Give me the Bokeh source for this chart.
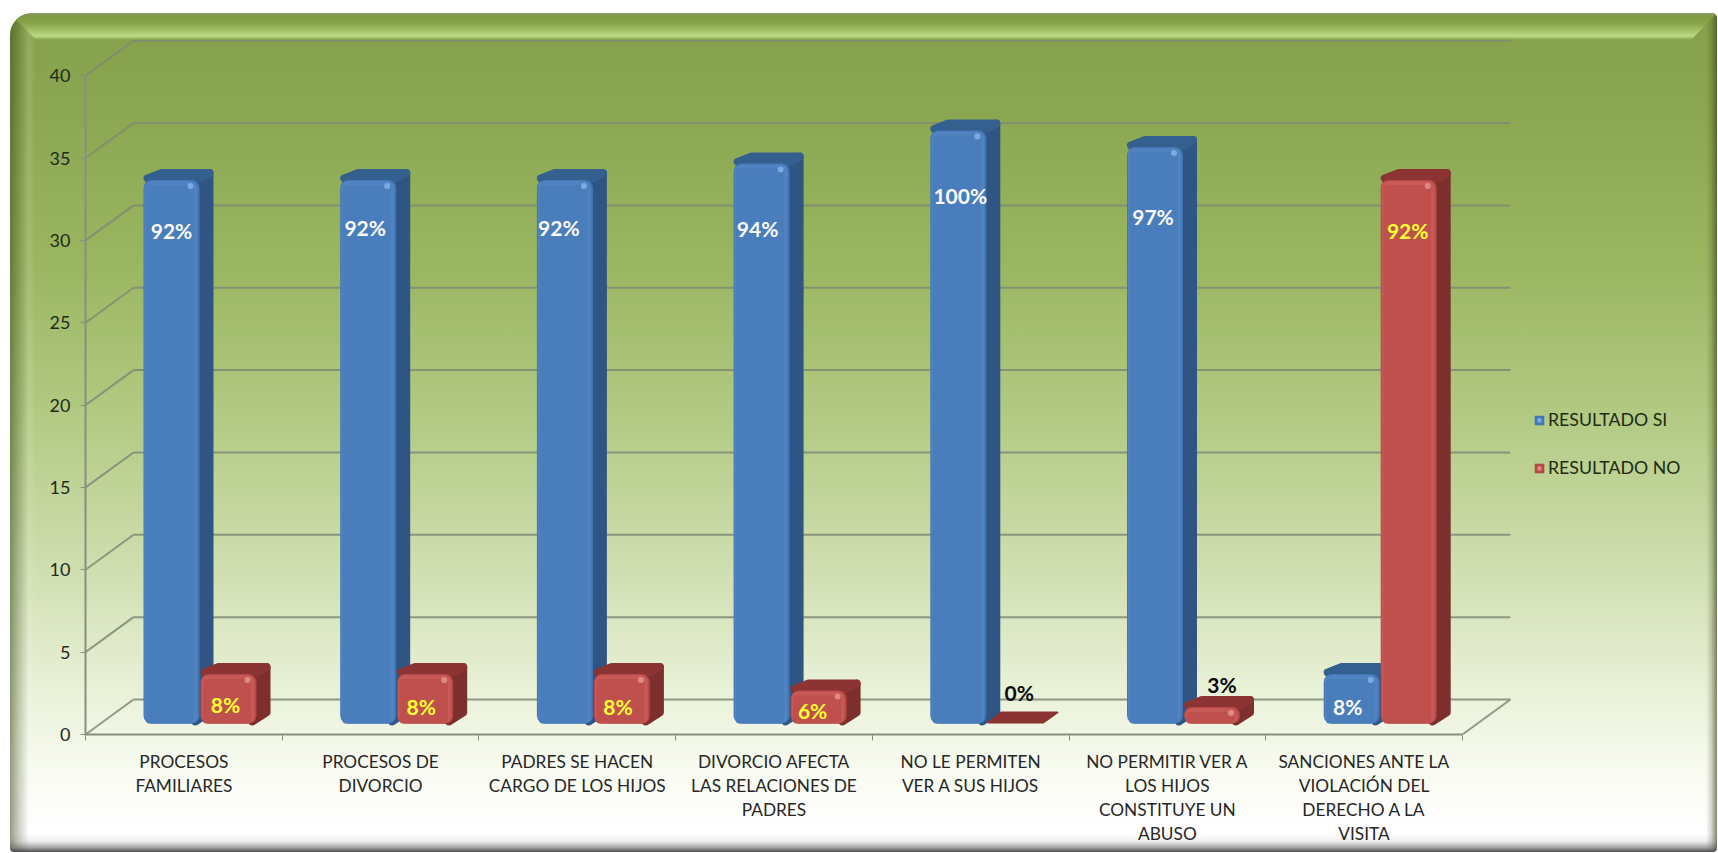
from bokeh.core.properties import value
from bokeh.embed import file_html
from bokeh.models import ColumnDataSource, FixedTicker, InlineStyleSheet, Legend, LegendItem, Range1d
from bokeh.plotting import figure
from bokeh.resources import INLINE

categories = [
    "PROCESOS\nFAMILIARES",
    "PROCESOS DE\nDIVORCIO",
    "PADRES SE HACEN\nCARGO DE LOS HIJOS",
    "DIVORCIO AFECTA\nLAS RELACIONES DE\nPADRES",
    "NO LE PERMITEN\nVER A SUS HIJOS",
    "NO PERMITIR VER A\nLOS HIJOS\nCONSTITUYE UN\nABUSO",
    "SANCIONES ANTE LA\nVIOLACIÓN DEL\nDERECHO A LA\nVISITA",
]
resultado_si = [33, 33, 33, 34, 36, 35, 3]
resultado_no = [3, 3, 3, 2, 0, 1, 33]
etiquetas_si = ["92%", "92%", "92%", "94%", "100%", "97%", "8%"]
etiquetas_no = ["8%", "8%", "8%", "6%", "0%", "3%", "92%"]
y_ticks = [0, 5, 10, 15, 20, 25, 30, 35, 40]

# Scale of the plotting frame, in pixels per data unit.
PX_X = 196.7
PX_Y = 16.47

FRAME_LEFT, FRAME_RIGHT, FRAME_TOP, FRAME_BOTTOM = 85, 1718, 38, 734
FONT = "Lato"

# Depth of the 3D box: offset of the back wall and of each bar.
WALL_DX, WALL_DY = 48 / PX_X, 35 / PX_Y
BAR_DX, BAR_DY = 14 / PX_X, 11 / PX_Y
BAR_LIFT = 11 / PX_Y
BAR_WIDTH = 56 / PX_X
SI_LEFT, NO_LEFT = 58 / PX_X, 115 / PX_X

css = InlineStyleSheet(css="""
:host { background:#ffffff; isolation:isolate; }
:host::before {
  content:""; position:absolute; left:10px; top:13px; right:1px; bottom:1px; z-index:-1;
  border-radius:22px 5px 4px 4px;
  background:
    linear-gradient(to bottom, rgba(90,90,90,0) 0, rgba(110,110,110,.12) 40%, rgba(90,90,90,.55) 75%, rgba(70,70,70,.95) 100%) left bottom/100% 18px no-repeat,
    linear-gradient(to right, rgba(60,75,30,.55) 0, rgba(60,75,30,.25) 9px, rgba(255,255,255,.12) 19px, rgba(255,255,255,0) 26px) left top/30px 100% no-repeat,
    linear-gradient(to left, rgba(60,70,30,.65) 0, rgba(60,70,30,.2) 6px, rgba(255,255,255,0) 11px) right top/12px 100% no-repeat,
    linear-gradient(to bottom, #84a04a 0, #8ba751 12%, #9ab661 30%, #b2ca83 48%, #cfdeaf 66%, #e8f0d6 80%, #f8fbf0 90%, #ffffff 97%);
}
:host::after {
  content:""; position:absolute; left:10px; top:13px; right:1px; height:27px; z-index:-1;
  border-radius:22px 5px 0 0;
  background:linear-gradient(to bottom, #8d9a72 0, #7d9a42 3px, #86a348 10px, #b3d079 21px, #bcd985 23px, #93b055 26px, #84a04a 100%);
  clip-path:polygon(0 0, 100% 0, calc(100% - 26px) 100%, 26px 100%);
}
""")

p = figure(
    width=1718,
    height=853,
    output_backend="svg",
    toolbar_location=None,
    x_range=Range1d(0, (FRAME_RIGHT - FRAME_LEFT) / PX_X),
    y_range=Range1d(0, (FRAME_BOTTOM - FRAME_TOP) / PX_Y),
    min_border_left=FRAME_LEFT,
    min_border_right=1718 - FRAME_RIGHT,
    min_border_top=FRAME_TOP,
    min_border_bottom=853 - FRAME_BOTTOM,
    background_fill_color=None,
    border_fill_color=None,
    outline_line_color=None,
    stylesheets=[css],
)
p.grid.visible = False

# Back wall, left wall and floor of the 3D box.
WALL = "#7f8a76"
n = len(categories)
p.segment(x0=[WALL_DX] * len(y_ticks), y0=[t + WALL_DY for t in y_ticks],
          x1=[n + WALL_DX] * len(y_ticks), y1=[t + WALL_DY for t in y_ticks],
          line_color=WALL, line_width=2, line_alpha=0.85)
p.segment(x0=[0] * len(y_ticks), y0=y_ticks,
          x1=[WALL_DX] * len(y_ticks), y1=[t + WALL_DY for t in y_ticks],
          line_color=WALL, line_width=2, line_alpha=0.85)
p.segment(x0=[n], y0=[0], x1=[n + WALL_DX], y1=[WALL_DY],
          line_color=WALL, line_width=2, line_alpha=0.85)


def draw_series(values, left, palette):
    """Draw one series as rounded 3D columns: side, top, then layered front face."""
    inset_x, inset_y = 4 / PX_X, 4 / PX_Y
    side_xs, side_ys, top_xs, top_ys, top_lw = [], [], [], [], []
    for i, v in enumerate(values):
        x0 = i + left
        x1 = x0 + BAR_WIDTH
        base = BAR_LIFT
        top = v + BAR_LIFT
        if v > 0:
            top_xs.append([x0 + inset_x, x1, x1 + BAR_DX - inset_x, x0 + BAR_DX + inset_x])
            top_ys.append([top + inset_y * 0.4, top + inset_y * 0.4,
                           top + BAR_DY - inset_y, top + BAR_DY - inset_y])
            top_lw.append(8)
            side_xs.append([x1 - inset_x, x1 + BAR_DX - inset_x, x1 + BAR_DX - inset_x, x1 - inset_x])
            side_ys.append([base + inset_y * 0.5, base + BAR_DY,
                            top + BAR_DY - inset_y, top])
        else:
            # An empty column collapses to its flat base plate.
            top_xs.append([x0 + 1 / PX_X, x1, x1 + BAR_DX, x0 + BAR_DX])
            top_ys.append([top + 1 / PX_Y, top + 1 / PX_Y, top + BAR_DY, top + BAR_DY])
            top_lw.append(2)

    p.patches(side_xs, side_ys, fill_color=palette["side"], line_color=palette["side"],
              line_width=8, line_join="round")
    p.patches(xs="xs", ys="ys", line_width="lw",
              source=ColumnDataSource(dict(xs=top_xs, ys=top_ys, lw=top_lw)),
              fill_color=palette["top"], line_color=palette["top"], line_join="round")

    shown = [(i, v) for i, v in enumerate(values) if v > 0]
    xc = [i + left + BAR_WIDTH / 2 for i, _ in shown]
    tops = [v + BAR_LIFT for _, v in shown]
    bottoms = [BAR_LIFT] * len(shown)

    base_bar = p.vbar(x=xc, bottom=bottoms, top=tops, width=BAR_WIDTH, border_radius=8,
                      fill_color=palette["edge"], line_color=None)
    p.vbar(x=[x - 0.5 / PX_X for x in xc], bottom=bottoms, top=[t - 1 / PX_Y for t in tops],
           width=BAR_WIDTH - 3 / PX_X, border_radius=7, fill_color=palette["light"], line_color=None)
    p.vbar(x=[x - 1.5 / PX_X for x in xc], bottom=bottoms, top=[t - 5 / PX_Y for t in tops],
           width=BAR_WIDTH - 8 / PX_X, border_radius=3, fill_color=palette["face"], line_color=None)
    glint = p.scatter(x=[x + 19 / PX_X for x in xc], y=[t - 6 / PX_Y for t in tops], size=6,
                      marker="circle", fill_color=palette["glint"], fill_alpha=0.7, line_color=None)
    return [base_bar, glint]


BLUE = dict(side="#2f5585", top="#34608f", edge="#4277b6", light="#5083c0", face="#4a7dbb", glint="#8fbdf0")
RED = dict(side="#7c2f2d", top="#8c3433", edge="#b64845", light="#c85956", face="#c0504d", glint="#f0a09c")

si_marks = draw_series(resultado_si, SI_LEFT, BLUE)
no_marks = draw_series(resultado_no, NO_LEFT, RED)

# Percentage labels, anchored on the front face of each bar.
si_dx = [0, -3, -6, -4, 2, -2, -4]
si_dy = [51, 48, 48, 65, 65, 69, 32]
no_dx = [-3, -4, -4, -6, 4, 10, -1]
no_dy = [30, 32, 32, 20, -31, -23, 51]


def value_color(v):
    if v == 0 or v == 1:
        return "#0a0a0a"
    return "#ffff33"


si_src = ColumnDataSource(dict(
    x=[i + SI_LEFT + BAR_WIDTH / 2 for i in range(n)],
    y=[v + BAR_LIFT for v in resultado_si],
    t=etiquetas_si, dx=si_dx, dy=si_dy))
no_src = ColumnDataSource(dict(
    x=[i + NO_LEFT + BAR_WIDTH / 2 for i in range(n)],
    y=[v + BAR_LIFT for v in resultado_no],
    t=etiquetas_no, dx=no_dx, dy=no_dy, c=[value_color(v) for v in resultado_no]))
p.text(x="x", y="y", text="t", x_offset="dx", y_offset="dy", source=si_src,
       text_font=value(FONT), text_font_style="bold", text_font_size="21px",
       text_color="#fafafa", text_align="center", text_baseline="middle")
p.text(x="x", y="y", text="t", x_offset="dx", y_offset="dy", source=no_src,
       text_font=value(FONT), text_font_style="bold", text_font_size="21px",
       text_color="c", text_align="center", text_baseline="middle")

# Axes: value axis on the left, category axis with ticks between groups.
AXIS = "#868f80"
yax = p.yaxis[0]
yax.ticker = FixedTicker(ticks=y_ticks)
yax.bounds = (0, 40)
yax.axis_line_color = AXIS
yax.axis_line_width = 2
yax.major_tick_line_color = AXIS
yax.major_tick_line_width = 1
yax.major_tick_in = 0
yax.major_tick_out = 5
yax.minor_tick_line_color = None
yax.major_label_standoff = 10
yax.major_label_text_font = FONT
yax.major_label_text_font_size = "18px"
yax.major_label_text_color = "#1f2a1a"

xax = p.xaxis[0]
centers = [i + 0.5 for i in range(n)]
xax.ticker = FixedTicker(ticks=centers, minor_ticks=list(range(n + 1)))
xax.major_label_overrides = dict(zip(centers, categories))
xax.bounds = (0, n)
xax.axis_line_color = AXIS
xax.axis_line_width = 2
xax.major_tick_line_color = None
xax.minor_tick_line_color = AXIS
xax.minor_tick_in = 0
xax.minor_tick_out = 6
xax.major_tick_in = 0
xax.major_tick_out = 0
xax.major_label_standoff = 10
xax.major_label_text_font = FONT
xax.major_label_text_font_size = "17.3px"
xax.major_label_text_color = "#262626"
xax.major_label_text_line_height = 1.15

legend = Legend(
    items=[LegendItem(label="RESULTADO SI", renderers=si_marks),
           LegendItem(label="RESULTADO NO", renderers=no_marks)],
    location=(1533 - FRAME_LEFT, FRAME_BOTTOM - 478),
    background_fill_alpha=0,
    border_line_color=None,
    padding=0,
    margin=0,
    spacing=27,
    glyph_width=12,
    glyph_height=12,
    label_standoff=3,
    label_text_font=FONT,
    label_text_font_size="17.7px",
    label_text_color="#1c2a12",
)
p.add_layout(legend)

open("out.html", "w").write(file_html(p, INLINE))
